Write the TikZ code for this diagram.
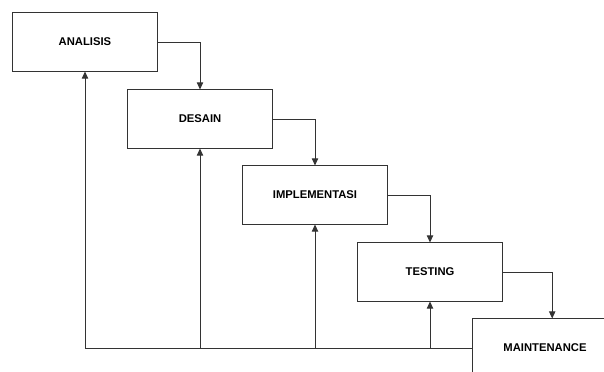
\documentclass[tikz,border=0pt]{standalone}
\usepackage{fontspec}
\setmainfont{Liberation Sans}
\usetikzlibrary{arrows.meta}

\begin{document}
\begin{tikzpicture}[x=0.025cm, y=-0.025cm,
    phase/.style={draw=black!80, line width=0.7pt, fill=white,
      minimum width=3.6cm, minimum height=1.45cm, inner sep=0pt,
      font=\fontsize{8}{9}\selectfont\bfseries},
    flow/.style={draw=black!80, line width=0.7pt,
      -{Triangle[length=1.8mm, width=1.6mm]}}]

    \clip (0,0) rectangle (604,372);

    % Stages
    \node[phase] (analisis) at (85,42)  {ANALISIS};
    \node[phase] (desain)   at (200,119) {DESAIN};
    \node[phase] (impl)     at (315,195) {IMPLEMENTASI};
    \node[phase] (testing)  at (430,272) {TESTING};
    \node[phase] (maint)    at (545,348) {MAINTENANCE};

    % Forward steps
    \draw[flow] (analisis.east) -| (desain.north);
    \draw[flow] (desain.east) -| (impl.north);
    \draw[flow] (impl.east) -| (testing.north);
    \draw[flow] (testing.east) -| ([xshift=0.18cm]maint.north);

    % Feedback
    \draw[flow] (maint.west) -| (analisis.south);
    \draw[flow] (desain.south |- maint.west) -- (desain.south);
    \draw[flow] (impl.south |- maint.west) -- (impl.south);
    \draw[flow] (testing.south |- maint.west) -- (testing.south);

\end{tikzpicture}
\end{document}
